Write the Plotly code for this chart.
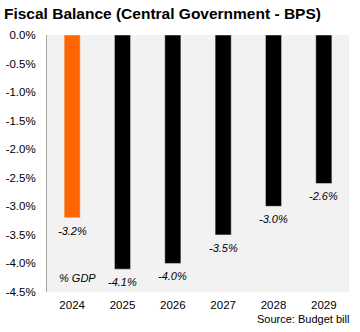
import plotly.graph_objects as go

years = ["2024", "2025", "2026", "2027", "2028", "2029"]
balance = [-3.2, -4.1, -4.0, -3.5, -3.0, -2.6]
colors = ["#ff6600", "#000000", "#000000", "#000000", "#000000", "#000000"]
y_ticks = [0.0, -0.5, -1.0, -1.5, -2.0, -2.5, -3.0, -3.5, -4.0, -4.5]

font = "Liberation Sans, Arial, sans-serif"
xpos = list(range(len(years)))

fig = go.Figure()
fig.add_trace(go.Bar(x=xpos, y=balance, marker_color=colors, width=0.32,
                     hoverinfo="skip"))

# value labels just below the end of each bar
for x, v in zip(xpos, balance):
    fig.add_annotation(x=x, y=v, text=f"<i>{v:.1f}%</i>", showarrow=False, yanchor="middle",
                       yshift=-13, font=dict(family=font, size=11, color="#000"))

fig.add_annotation(x=xpos[0], y=-4.26, text="<i>% GDP</i>", showarrow=False, xshift=5,
                   font=dict(family=font, size=11, color="#000"))
fig.add_annotation(xref="paper", yref="paper", x=1.005, y=-0.105, xanchor="right", yanchor="middle",
                   text="Source: Budget bill", showarrow=False,
                   font=dict(family=font, size=11, color="#000"))

fig.update_layout(
    width=360, height=332,
    margin=dict(l=47, r=11, t=35, b=40),
    paper_bgcolor="#ffffff", plot_bgcolor="#f2f2f2",
    showlegend=False,
    title=dict(text="<b>Fiscal Balance (Central Government - BPS)</b>", x=0.011, xanchor="left",
               y=1 - 14 / 332, yanchor="middle", font=dict(family=font, size=15.5, color="#000")),
    font=dict(family=font, size=11, color="#000"),
)
fig.update_yaxes(range=[-4.5, 0], tickvals=y_ticks, ticktext=[f"{t:.1f}%" for t in y_ticks],
                 showgrid=False, zeroline=False, showline=True, linecolor="#a6a6a6", linewidth=1,
                 ticks="outside", ticklen=8, tickcolor="rgba(0,0,0,0)", tickfont=dict(size=11.5),
                 automargin=False)
fig.update_xaxes(range=[-0.5, len(years) - 0.5], tickvals=xpos, ticktext=years,
                 showgrid=False, showline=False, zeroline=False,
                 ticks="outside", ticklen=2, tickcolor="rgba(0,0,0,0)", tickfont=dict(size=11.5),
                 automargin=False)

fig.write_html("out.html")
